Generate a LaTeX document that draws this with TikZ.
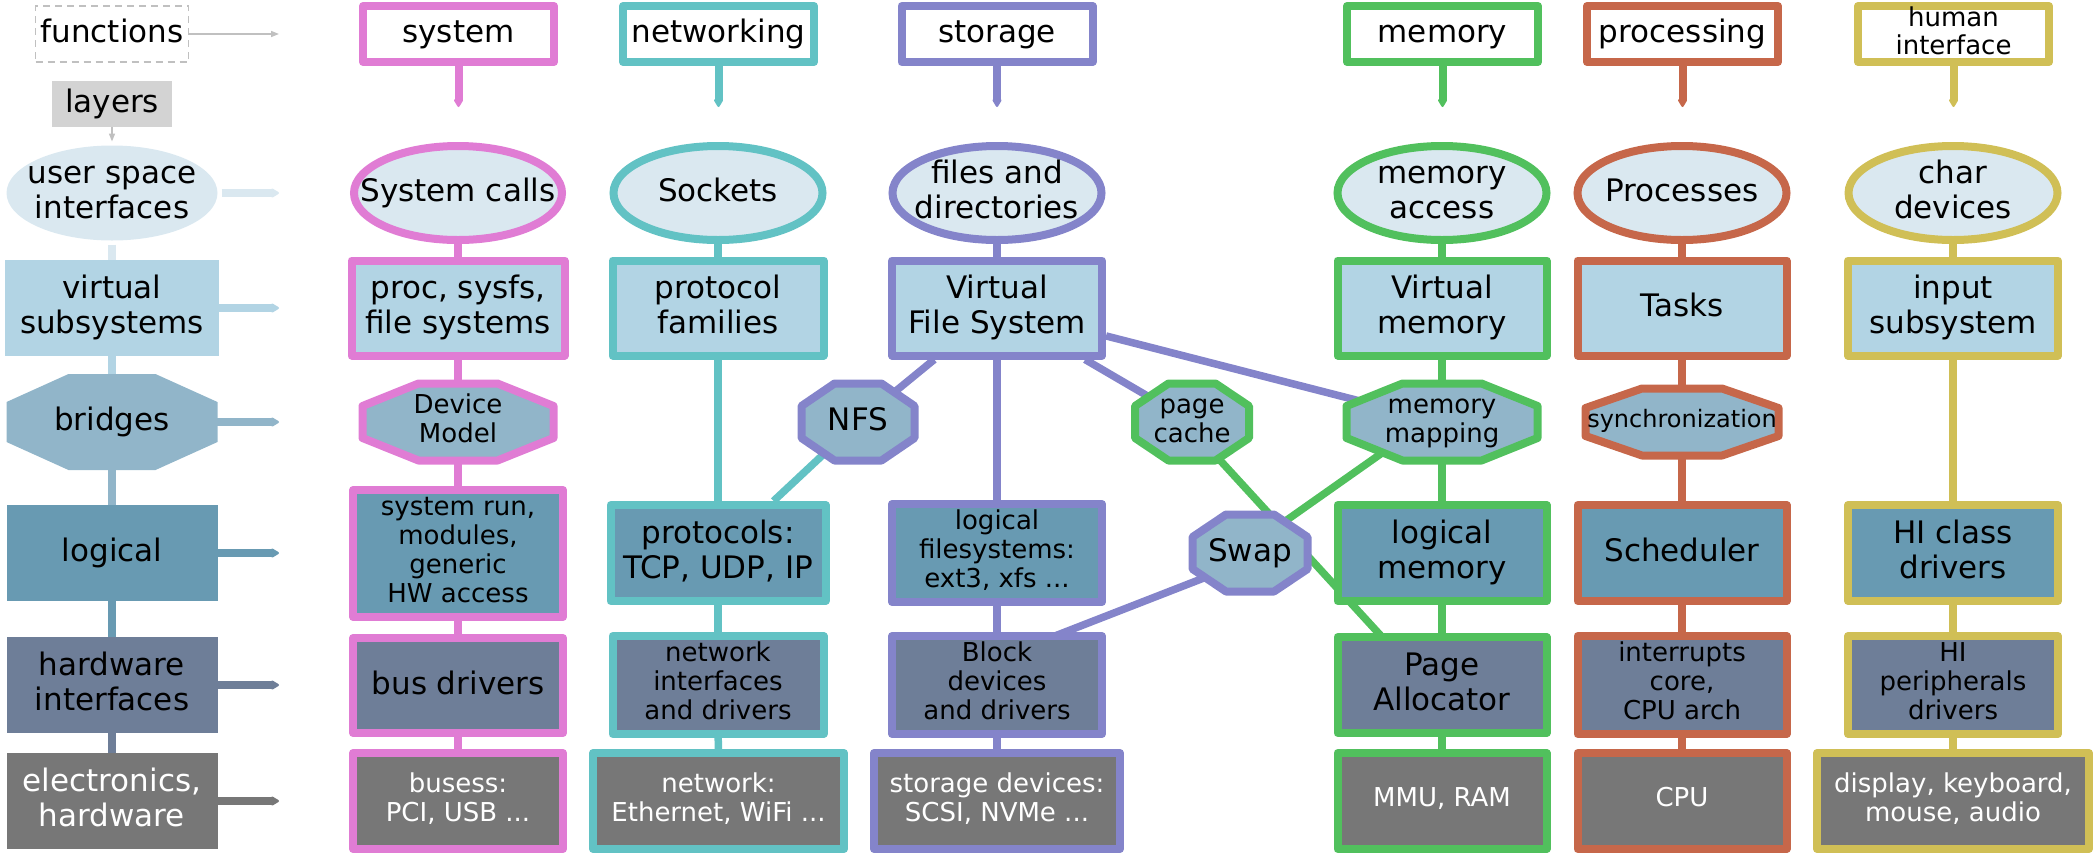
\documentclass[tikz,border=0pt]{standalone}
\usepackage{fontspec}
\setmainfont{DejaVu Sans}
\usetikzlibrary{arrows.meta,shapes.geometric,backgrounds}

\newlength{\du}
\setlength{\du}{1pt}

\begin{document}
\begin{tikzpicture}[
  big/.style={font=\fontsize{31}{35}\selectfont, text height=27\du, text depth=10\du},
  small/.style={font=\fontsize{26}{29}\selectfont, text height=21\du, text depth=10\du},
  tiny/.style={font=\fontsize{24}{28}\selectfont, text height=20\du, text depth=10\du},
  txt/.style={text height=#1\du},
  lyr/.style={rectangle, inner sep=0pt, align=center, big, minimum width=211\du, minimum height=96\du},
  cell/.style={rectangle, draw, line width=8\du, line join=round, inner sep=0pt, align=center, minimum width=209\du, minimum height=96\du, big},
  fnbox/.style={cell, fill=white, minimum width=191\du, minimum height=56\du},
  ifbox/.style={ellipse, draw, line width=8\du, fill=ifcolor, minimum width=209\du, minimum height=94\du, inner xsep=-60\du, inner ysep=-20\du, align=center, big},
  virtbox/.style={cell, fill=virtcolor, minimum height=95\du},
  logicbox/.style={cell, fill=logiccolor},
  hwbox/.style={cell, fill=hwcolor},
  elbox/.style={cell, fill=elcolor, text=white, small},
  octline/.style={line width=8\du, line join=round, fill=bridgecolor},
  octtext/.style={inner sep=0pt, align=center},
  link/.style={line width=7.5\du},
  fnarrow/.style={line width=8\du, -{Triangle[round,length=9pt,width=10pt]}},
  lyrarrow/.style={line width=8\du, -{Triangle[round,length=9pt,width=10pt]}},
  guide/.style={draw=guidecolor, line width=1.5\du, -{Triangle[length=8pt,width=6pt]}}
]
\pgftransformxscale{1.000000}
\pgftransformyscale{-1.000000}
\definecolor{syscolor}{rgb}{0.878, 0.486, 0.831}
\definecolor{netcolor}{rgb}{0.384, 0.761, 0.769}
\definecolor{stocolor}{rgb}{0.518, 0.518, 0.792}
\definecolor{memcolor}{rgb}{0.318, 0.753, 0.365}
\definecolor{proccolor}{rgb}{0.776, 0.404, 0.290}
\definecolor{hicolor}{rgb}{0.816, 0.749, 0.337}
\definecolor{ifcolor}{rgb}{0.855, 0.910, 0.941}
\definecolor{virtcolor}{rgb}{0.698, 0.831, 0.894}
\definecolor{bridgecolor}{rgb}{0.569, 0.710, 0.788}
\definecolor{logiccolor}{rgb}{0.408, 0.604, 0.698}
\definecolor{hwcolor}{rgb}{0.431, 0.494, 0.596}
\definecolor{elcolor}{rgb}{0.467, 0.467, 0.467}
\definecolor{layercolor}{rgb}{0.827, 0.827, 0.827}
\definecolor{guidecolor}{rgb}{0.753, 0.753, 0.753}
\useasboundingbox (0\du,0\du) rectangle (2095\du,855\du);
% layer column
\node[lyr, draw=guidecolor, line width=1.5\du, dash pattern=on 7pt off 5pt, minimum width=153\du, minimum height=56\du] (fn) at (112\du,34\du) {functions};
\node[lyr, fill=layercolor, minimum width=120\du, minimum height=46\du] (layers) at (112\du,104\du) {layers};
\node[ifbox, draw=none, minimum width=211\du, minimum height=95\du, txt=60] (usi) at (112\du,193\du) {user space\\interfaces};
\node[lyr, fill=virtcolor, minimum width=214\du, txt=60] (virt) at (112\du,308\du) {virtual\\subsystems};
\fill[bridgecolor] (6.5\du,402\du)--(68.5\du,374\du)--(155.5\du,374\du)--(217.5\du,402\du)--(217.5\du,442\du)--(155.5\du,470\du)--(68.5\du,470\du)--(6.5\du,442\du)--cycle;
\node[octtext, big] (bridges) at (112\du,422\du) {bridges};
\node[lyr, fill=logiccolor] (logical) at (112\du,553\du) {logical};
\node[lyr, fill=hwcolor, txt=60] (hwif) at (112\du,685\du) {hardware\\interfaces};
\node[lyr, fill=elcolor, text=white, txt=60] (elec) at (112\du,801\du) {electronics,\\hardware};
% function boxes
\node[fnbox, draw=syscolor] (sysfn) at (458.5\du,34\du) {system};
\node[fnbox, draw=netcolor] (netfn) at (718.5\du,34\du) {networking};
\node[fnbox, draw=stocolor] (stofn) at (997\du,34\du) {storage};
\node[fnbox, draw=memcolor] (memfn) at (1442.5\du,34\du) {memory};
\node[fnbox, draw=proccolor] (procfn) at (1682.5\du,34\du) {processing};
\node[fnbox, draw=hicolor, font=\fontsize{26}{28}\selectfont, text height=48\du, text depth=8\du] (hifn) at (1953.5\du,34\du) {human\\interface};
% user space interfaces
\node[ifbox, draw=syscolor, minimum width=208\du] (syscall) at (458\du,193\du) {System calls};
\node[ifbox, draw=netcolor] (sockets) at (718\du,193\du) {Sockets};
\node[ifbox, draw=stocolor, txt=60] (files) at (997\du,193\du) {files and\\directories};
\node[ifbox, draw=memcolor, txt=60] (memacc) at (1442\du,193\du) {memory\\access};
\node[ifbox, draw=proccolor] (processes) at (1682\du,193\du) {Processes};
\node[ifbox, draw=hicolor, txt=60] (chardev) at (1953\du,193\du) {char\\devices};
% virtual subsystems
\node[virtbox, draw=syscolor, minimum width=213\du, txt=60] (procfs) at (458\du,308\du) {proc, sysfs,\\file systems};
\node[virtbox, draw=netcolor, minimum width=211\du, txt=60] (protofam) at (718\du,308\du) {protocol\\families};
\node[virtbox, draw=stocolor, minimum width=210\du, txt=60] (vfs) at (997\du,308\du) {Virtual\\File System};
\node[virtbox, draw=memcolor, txt=60] (virtmem) at (1442\du,308\du) {Virtual\\memory};
\node[virtbox, draw=proccolor] (tasks) at (1682\du,308\du) {Tasks};
\node[virtbox, draw=hicolor, minimum width=210\du, txt=60] (input) at (1953\du,308\du) {input\\subsystem};
% bridges
\filldraw[octline, draw=syscolor] (362.5\du,406\du)--(418.5\du,383.5\du)--(497.5\du,383.5\du)--(553.5\du,406\du)--(553.5\du,438\du)--(497.5\du,460.5\du)--(418.5\du,460.5\du)--(362.5\du,438\du)--cycle;
\node[octtext, small, txt=50] (devmodel) at (458\du,422\du) {Device\\Model};
\filldraw[octline, draw=stocolor] (801.5\du,406\du)--(834.5\du,383.5\du)--(881.5\du,383.5\du)--(914.5\du,406\du)--(914.5\du,438\du)--(881.5\du,460.5\du)--(834.5\du,460.5\du)--(801.5\du,438\du)--cycle;
\node[octtext, big] (nfs) at (858\du,422\du) {NFS};
\filldraw[octline, draw=memcolor] (1135\du,406\du)--(1168.5\du,383.5\du)--(1215.5\du,383.5\du)--(1249\du,406\du)--(1249\du,438\du)--(1215.5\du,460.5\du)--(1168.5\du,460.5\du)--(1135\du,438\du)--cycle;
\node[octtext, small, txt=50] (pcache) at (1192\du,422\du) {page\\cache};
\filldraw[octline, draw=memcolor] (1346.5\du,406\du)--(1402.5\du,383.5\du)--(1481.5\du,383.5\du)--(1537.5\du,406\du)--(1537.5\du,438\du)--(1481.5\du,460.5\du)--(1402.5\du,460.5\du)--(1346.5\du,438\du)--cycle;
\node[octtext, small, txt=50] (mmap) at (1442\du,422\du) {memory\\mapping};
\filldraw[octline, draw=proccolor] (1585.5\du,408\du)--(1642\du,388.5\du)--(1722\du,388.5\du)--(1778.5\du,408\du)--(1778.5\du,436\du)--(1722\du,455.5\du)--(1642\du,455.5\du)--(1585.5\du,436\du)--cycle;
\node[octtext, tiny] (sync) at (1682\du,422\du) {synchronization};
\filldraw[octline, draw=stocolor] (1192.5\du,537\du)--(1226\du,514.5\du)--(1274\du,514.5\du)--(1307.5\du,537\du)--(1307.5\du,569\du)--(1274\du,591.5\du)--(1226\du,591.5\du)--(1192.5\du,569\du)--cycle;
\node[octtext, big] (swap) at (1250\du,553\du) {Swap};
% logical
\node[logicbox, draw=syscolor, minimum width=210\du, minimum height=127\du, small, txt=108] (sysrun) at (458\du,553.5\du) {system run,\\modules,\\generic\\HW access};
\node[logicbox, draw=netcolor, minimum width=215\du, txt=60] (protocols) at (718\du,553\du) {protocols:\\TCP, UDP, IP};
\node[logicbox, draw=stocolor, minimum width=210\du, minimum height=98\du, small, txt=79] (logfs) at (997\du,553\du) {logical\\filesystems:\\ext3, xfs ...};
\node[logicbox, draw=memcolor, txt=60] (logmem) at (1442\du,553\du) {logical\\memory};
\node[logicbox, draw=proccolor] (sched) at (1682\du,553\du) {Scheduler};
\node[logicbox, draw=hicolor, minimum width=210\du, txt=60] (hiclass) at (1953\du,553\du) {HI class\\drivers};
% hardware interfaces
\node[hwbox, draw=syscolor, minimum width=210\du, minimum height=95\du] (busdrv) at (458\du,685.5\du) {bus drivers};
\node[hwbox, draw=netcolor, minimum width=211\du, minimum height=98\du, small, txt=79] (netif) at (718\du,685\du) {network\\interfaces\\and drivers};
\node[hwbox, draw=stocolor, minimum width=210\du, minimum height=98\du, small, txt=79] (block) at (997\du,685\du) {Block\\devices\\and drivers};
\node[hwbox, draw=memcolor, txt=60] (palloc) at (1442\du,685\du) {Page\\Allocator};
\node[hwbox, draw=proccolor, minimum height=98\du, small, txt=79] (irq) at (1682\du,685\du) {interrupts\\core,\\CPU arch};
\node[hwbox, draw=hicolor, minimum width=210\du, minimum height=98\du, small, txt=79] (hiperiph) at (1953\du,685\du) {HI\\peripherals\\drivers};
% electronics
\node[elbox, draw=syscolor, minimum width=210\du, txt=50] (buses) at (458\du,801\du) {busess:\\PCI, USB ...};
\node[elbox, draw=netcolor, minimum width=251\du, txt=50] (netdev) at (718.5\du,801\du) {network:\\Ethernet, WiFi ...};
\node[elbox, draw=stocolor, minimum width=246\du, txt=50] (stodev) at (997\du,801\du) {storage devices:\\SCSI, NVMe ...};
\node[elbox, draw=memcolor] (mmu) at (1442\du,801\du) {MMU, RAM};
\node[elbox, draw=proccolor] (cpu) at (1682\du,801\du) {CPU};
\node[elbox, draw=hicolor, minimum width=272\du, txt=50] (display) at (1953\du,801\du) {display, keyboard,\\mouse, audio};
% connectors
\begin{scope}[on background layer]
\coordinate (fntip) at (0\du,107\du);
\coordinate (lyrtip) at (279\du,0\du);
\draw[guide] (fn) -- (fn -| lyrtip);
\draw[guide] (layers) -- (usi);
\foreach \a/\b/\c in {usi/virt/ifcolor, virt/bridges/virtcolor, bridges/logical/bridgecolor, logical/hwif/logiccolor, hwif/elec/hwcolor}
  \draw[link, line width=8\du, draw=\c] (\a) -- (\b);
\foreach \a/\c in {usi/ifcolor, virt/virtcolor, bridges/bridgecolor, logical/logiccolor, hwif/hwcolor, elec/elcolor}
  \draw[lyrarrow, draw=\c] (\a) -- (\a -| lyrtip);
\foreach \n/\c in {sysfn/syscolor, netfn/netcolor, stofn/stocolor, memfn/memcolor, procfn/proccolor, hifn/hicolor}
  \draw[fnarrow, draw=\c] (\n) -- (\n |- fntip);
\foreach \a/\b in {syscall/procfs, procfs/devmodel, devmodel/sysrun, sysrun/busdrv, busdrv/buses}
  \draw[link, draw=syscolor] (\a) -- (\b);
\foreach \a/\b in {sockets/protofam, protofam/protocols, protocols/netif, netif/netdev, nfs/protocols}
  \draw[link, draw=netcolor] (\a) -- (\b);
\foreach \a/\b in {files/vfs, vfs/logfs, logfs/block, block/stodev, vfs/nfs, vfs/pcache, vfs/mmap}
  \draw[link, draw=stocolor] (\a) -- (\b);
\draw[link, draw=stocolor] ([yshift=7\du]swap.center) -- ([xshift=-68\du]block.center);
\foreach \a/\b in {memacc/virtmem, virtmem/mmap, mmap/logmem, logmem/palloc, palloc/mmu}
  \draw[link, draw=memcolor] (\a) -- (\b);
\draw[link, draw=memcolor] ([xshift=-7\du]pcache.center) -- ([xshift=-16\du]palloc.center);
\draw[link, draw=memcolor] ([xshift=-16\du]mmap.center) -- ([xshift=-10\du]swap.center);
\foreach \a/\b in {processes/tasks, tasks/sync, sync/sched, sched/irq, irq/cpu}
  \draw[link, draw=proccolor] (\a) -- (\b);
\foreach \a/\b in {chardev/input, input/hiclass, hiclass/hiperiph, hiperiph/display}
  \draw[link, draw=hicolor] (\a) -- (\b);
\end{scope}
\end{tikzpicture}
\end{document}
